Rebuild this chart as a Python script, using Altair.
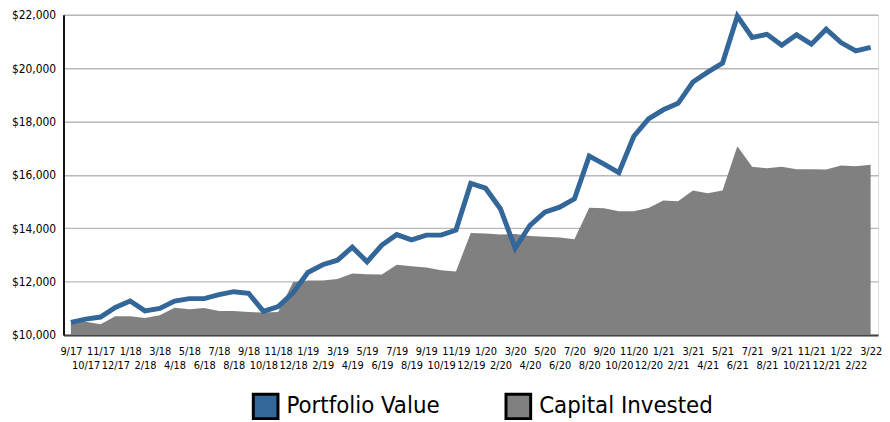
import altair as alt
import pandas as pd

months = ["9/17", "10/17", "11/17", "12/17",
          "1/18", "2/18", "3/18", "4/18", "5/18", "6/18", "7/18", "8/18", "9/18", "10/18", "11/18", "12/18",
          "1/19", "2/19", "3/19", "4/19", "5/19", "6/19", "7/19", "8/19", "9/19", "10/19", "11/19", "12/19",
          "1/20", "2/20", "3/20", "4/20", "5/20", "6/20", "7/20", "8/20", "9/20", "10/20", "11/20", "12/20",
          "1/21", "2/21", "3/21", "4/21", "5/21", "6/21", "7/21", "8/21", "9/21", "10/21", "11/21", "12/21",
          "1/22", "2/22", "3/22"]

portfolio = [10470, 10590, 10670, 11030, 11270, 10900, 10990, 11270, 11360, 11360,
             11510, 11620, 11560, 10880, 11060, 11580, 12340, 12630, 12800, 13290,
             12740, 13370, 13760, 13560, 13740, 13740, 13930, 15680, 15500, 14730,
             13250, 14110, 14600, 14790, 15100, 16700, 16400, 16085, 17440, 18100,
             18440, 18680, 19480, 19850, 20190, 21950, 21150, 21270, 20860, 21250,
             20900, 21460, 20960, 20650, 20780]

capital = [10450, 10490, 10400, 10700, 10700, 10630, 10740, 11020, 10960, 11010,
           10900, 10900, 10860, 10840, 10860, 11970, 12040, 12040, 12100, 12300,
           12270, 12260, 12630, 12570, 12530, 12420, 12380, 13820, 13800, 13760,
           13780, 13710, 13680, 13650, 13590, 14770, 14750, 14640, 14640, 14760,
           15040, 15010, 15410, 15310, 15410, 17070, 16300, 16250, 16300, 16210,
           16210, 16200, 16350, 16320, 16380]

y_ticks = [10000, 12000, 14000, 16000, 18000, 20000, 22000]
series_names = ["Portfolio Value", "Capital Invested"]
series_colors = ["#336699", "#808080"]

FONT = "DejaVu Sans Condensed, Liberation Sans, sans-serif"

df = pd.DataFrame({
    "idx": list(range(len(months))),
    "month": months,
    "portfolio": portfolio,
    "capital": capital,
    "series": ["Capital Invested"] * len(months),
})

labels_js = "[" + ",".join("'" + m + "'" for m in months) + "]"
label_expr = (f"datum.value % 2 == 0 ? [{labels_js}[datum.value], ''] "
              f": ['', {labels_js}[datum.value]]")

x_enc = alt.X(
    "idx:Q",
    scale=alt.Scale(domain=[-0.5, len(months) - 0.5], nice=False, zero=False),
    axis=alt.Axis(values=list(range(len(months))), labelExpr=label_expr, title=None,
                  ticks=False, tickSize=0, grid=False, labelFontSize=11, labelLineHeight=14,
                  labelPadding=11, labelOverlap=False, labelFlush=False, labelAngle=0,
                  labelColor="black", labelFont=FONT,
                  domainColor="#444444", domainWidth=2),
)

y_scale = alt.Scale(domain=[10000, 22000], nice=False, zero=False)
y_axis = alt.Axis(values=y_ticks, format="$,.0f", title=None, ticks=False, tickSize=0,
                  gridColor="#b8b8b8", gridWidth=1.5, domainColor="#111111", domainWidth=2,
                  labelPadding=8, labelFontSize=12, labelColor="black", labelFont=FONT)

area = alt.Chart(df).mark_area(opacity=1).encode(
    x=x_enc,
    y=alt.Y("capital:Q", scale=y_scale, axis=y_axis),
    y2=alt.datum(10000),
    color=alt.Color(
        "series:N",
        scale=alt.Scale(domain=series_names, range=series_colors),
        legend=alt.Legend(
            title=None, orient="none", legendX=190, legendY=381, direction="horizontal",
            symbolType="square", symbolSize=620, symbolStrokeColor="black",
            symbolStrokeWidth=3, symbolOpacity=1, labelFontSize=24, labelFont=FONT,
            labelColor="black", labelOffset=7, columnPadding=60, labelLimit=400,
        ),
    ),
)

line = alt.Chart(df).mark_line(color="#336699", strokeWidth=5).encode(
    x=x_enc,
    y=alt.Y("portfolio:Q", scale=y_scale, axis=y_axis),
)

chart = alt.layer(area, line).properties(
    width=822,
    height=323,
    padding={"left": 56, "top": 5, "right": 4, "bottom": 84},
    autosize=alt.AutoSizeParams(type="none"),
).configure_view(
    stroke="#808080", strokeWidth=1.5
).configure(
    font=FONT
)

chart.save("out.html", embed_options={"renderer": "svg", "actions": False})
